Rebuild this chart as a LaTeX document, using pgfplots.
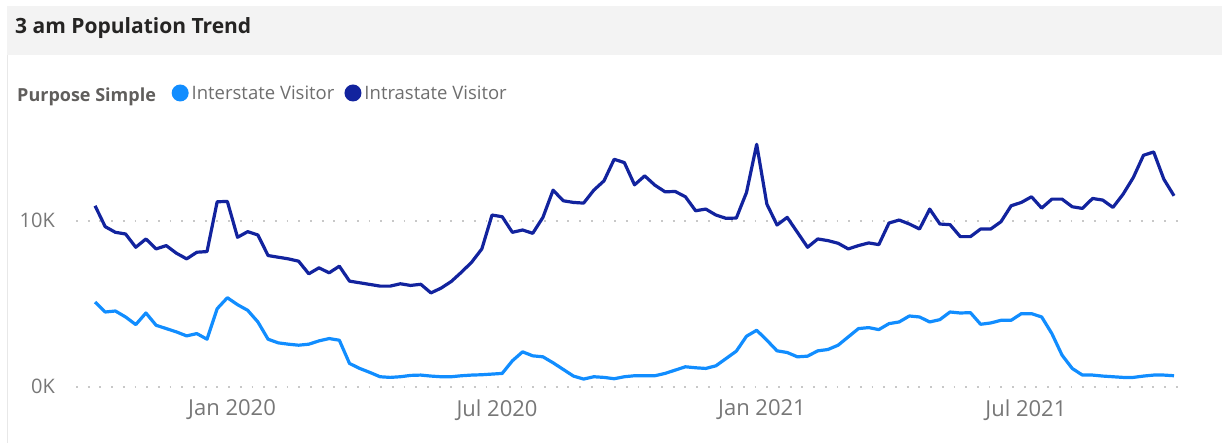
\documentclass[border=0pt]{standalone}
\usepackage{fontspec}
\setmainfont{Open Sans}
\usepackage{pgfplots}
\usepackage{pgfplotstable}
\pgfplotsset{compat=1.18}

\definecolor{inter}{HTML}{118DFF}
\definecolor{intra}{HTML}{12239E}
\definecolor{txtgray}{HTML}{605E5C}
\definecolor{legtext}{HTML}{6E6E6E}
\definecolor{tickgray}{HTML}{777777}
\definecolor{titlecol}{HTML}{252423}
\definecolor{titlebg}{HTML}{F3F3F3}
\definecolor{cardline}{HTML}{E8E8E8}
\definecolor{gridgray}{HTML}{C8C8C8}

% weekly values, first week of the series is index 0
\pgfplotstableread{
v
5100
4500
4560
4200
3740
4440
3700
3500
3300
3060
3200
2860
4700
5360
4940
4600
3900
2860
2640
2560
2500
2560
2760
2900
2800
1400
1100
860
600
560
600
680
700
640
600
600
660
700
720
760
800
1560
2100
1860
1800
1440
1040
640
460
600
560
480
600
660
660
660
800
1000
1200
1140
1100
1260
1700
2140
3040
3400
2800
2160
2060
1800
1840
2160
2240
2500
3000
3500
3560
3440
3800
3900
4260
4200
3900
4040
4500
4440
4460
3760
3840
4000
4000
4400
4400
4200
3200
1900
1100
700
700
640
600
560
560
640
700
700
660
}\interdata

\pgfplotstableread{
v
10900
9640
9300
9200
8400
8900
8300
8500
8040
7700
8100
8140
11140
11160
9000
9340
9140
7900
7800
7700
7560
6800
7160
6860
7260
6360
6260
6160
6060
6060
6200
6100
6170
5650
5940
6340
6900
7500
8300
10340
10240
9300
9440
9240
10200
11840
11200
11100
11060
11840
12400
13700
13500
12160
12700
12140
11740
11760
11440
10600
10700
10340
10140
10160
11700
14600
11000
9740
10200
9300
8400
8900
8800
8640
8300
8500
8660
8560
9860
10040
9800
9500
10700
9800
9760
9040
9040
9500
9500
9940
10900
11100
11440
10760
11300
11300
10840
10740
11340
11240
10800
11600
12600
13940
14140
12500
11500
}\intradata

\begin{document}
\begin{tikzpicture}[x=1pt,y=1pt]
\path (0,0) rectangle (1222,443);
\fill[titlebg] (7,388) rectangle (1222,437);
\draw[cardline, line width=1pt] (7,0) -- (7,388);
\node[anchor=base west, inner sep=0pt, text=titlecol,
      font=\fontsize{21}{25}\selectfont\bfseries] at (15,409.5) {3 am Population Trend};
\node[anchor=base west, inner sep=0pt, text=txtgray,
      font=\fontsize{18}{21}\selectfont\bfseries] at (17,341.5) {Purpose Simple};

\begin{axis}[
  at={(76pt,56.3pt)}, anchor=south west,
  scale only axis, width=1109pt, height=257.3pt,
  xmin=-1.87, xmax=107.08, ymin=0, ymax=15500,
  axis line style={draw=none},
  tick style={draw=none},
  scaled y ticks=false,
  ytick={0,10000}, yticklabels={0K,10K},
  xtick={13.46,39.49,65.52,91.45},
  xticklabels={Jan 2020,Jul 2020,Jan 2021,Jul 2021},
  ymajorgrids,
  grid style={gridgray, line width=1.8pt, dash pattern=on 1.8pt off 9.9pt},
  yticklabel style={anchor=east, inner sep=0pt, xshift=-21pt,
    text=tickgray, font=\fontsize{20}{24}\selectfont},
  xticklabel style={anchor=north, inner sep=0pt, yshift=-13pt,
    text=tickgray, font=\fontsize{22}{26}\selectfont},
  /pgf/number format/assume math mode=true,
  legend columns=-1,
  legend style={at={(0.0861,1.1415)}, anchor=west, draw=none, fill=none,
    inner sep=0pt, text=legtext, font=\fontsize{18.5}{21}\selectfont,
    nodes={inner xsep=0pt},
    /tikz/every odd column/.append style={column sep=3pt},
    /tikz/every even column/.append style={column sep=10pt}},
  legend image code/.code={\fill[#1, draw=none] (8.5pt,0pt) circle (8.5pt);},
]
\addplot[inter, line width=3.2pt, line join=round] table[x expr=\coordindex, y=v] {\interdata};
\addplot[intra, line width=3.2pt, line join=round] table[x expr=\coordindex, y=v] {\intradata};
\legend{Interstate Visitor, Intrastate Visitor}
\end{axis}
\end{tikzpicture}
\end{document}
